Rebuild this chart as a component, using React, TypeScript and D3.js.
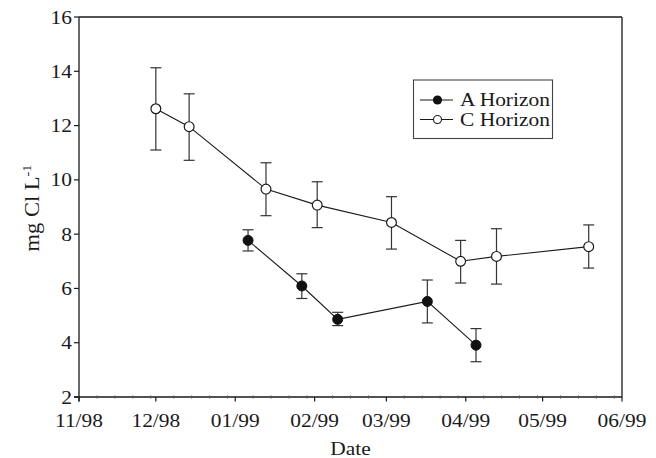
import React from "react";
import * as d3 from "d3";

const cDates = ["1998-12-01", "1998-12-14", "1999-01-13", "1999-02-02", "1999-03-03", "1999-03-30", "1999-04-13", "1999-05-19"];
const cValues = [12.62, 11.96, 9.66, 9.07, 8.43, 7.0, 7.18, 7.54];
const cUpper = [14.13, 13.17, 10.63, 9.93, 9.38, 7.77, 8.2, 8.34];
const cLower = [11.1, 10.72, 8.68, 8.24, 7.45, 6.2, 6.16, 6.75];

const aDates = ["1999-01-06", "1999-01-27", "1999-02-10", "1999-03-17", "1999-04-05"];
const aValues = [7.77, 6.09, 4.86, 5.52, 3.91];
const aUpper = [8.16, 6.54, 5.12, 6.31, 4.52];
const aLower = [7.38, 5.63, 4.63, 4.73, 3.3];

const yTicks = [2, 4, 6, 8, 10, 12, 14, 16];
const xTickFormat = "%m/%y";
const seriesNames = ["A Horizon", "C Horizon"];

const W = 656;
const H = 458;
const FONT = "'Liberation Serif', 'Times New Roman', serif";
const INK = "#1a1a1a";
const SX = 1.1;

const parse = (s: string) => {
  const [y, m, d] = s.split("-").map(Number);
  return new Date(y, m - 1, d);
};

function Txt({ x, y, anchor = "start", size = 19.5, rotate = 0, children }: any) {
  return (
    <text
      transform={`translate(${x},${y}) rotate(${rotate}) scale(${SX},1)`}
      textAnchor={anchor}
      fontFamily={FONT}
      fontSize={size}
      fill={INK}
    >
      {children}
    </text>
  );
}

export default function App() {
  const x = d3.scaleTime().domain([new Date(1998, 10, 1), new Date(1999, 5, 1)]).range([79, 622]);
  const y = d3.scaleLinear().domain([2, 16]).range([397, 17]);
  const [x0, x1] = x.range();
  const [y0, y1] = y.range();

  const majors = x.ticks(d3.timeMonth.every(1)!);
  const minors: Date[] = [];
  d3.timeMonth.range(new Date(1998, 10, 1), new Date(1999, 5, 1)).forEach((m) => {
    [8, 15, 22, 29].forEach((d) => {
      const dt = new Date(m.getFullYear(), m.getMonth(), d);
      if (dt.getMonth() === m.getMonth()) minors.push(dt);
    });
  });
  const fmt = d3.timeFormat(xTickFormat);

  const cData = cDates.map((d, i) => ({ date: parse(d), v: cValues[i], hi: cUpper[i], lo: cLower[i] }));
  const aData = aDates.map((d, i) => ({ date: parse(d), v: aValues[i], hi: aUpper[i], lo: aLower[i] }));
  const line = d3.line<any>().x((d) => x(d.date)).y((d) => y(d.v));

  const errBars = (data: any[], key: string) =>
    data.map((d, i) => {
      const cx = x(d.date);
      return (
        <g key={key + i} stroke="#333" strokeWidth={1.2}>
          <line x1={cx} x2={cx} y1={y(d.hi)} y2={y(d.lo)} />
          <line x1={cx - 5.5} x2={cx + 5.5} y1={y(d.hi)} y2={y(d.hi)} />
          <line x1={cx - 5.5} x2={cx + 5.5} y1={y(d.lo)} y2={y(d.lo)} />
        </g>
      );
    });

  return (
    <svg width={W} height={H} style={{ position: "absolute", left: 0, top: 0, background: "#fff" }}>
      <rect x={0} y={0} width={W} height={H} fill="#fff" />
      {/* frame */}
      <g stroke={INK} strokeWidth={1.3} fill="none">
        <line x1={x0} x2={x1} y1={y1} y2={y1} />
        <line x1={x1} x2={x1} y1={y1} y2={y0} />
        <line x1={x0} x2={x0} y1={y1} y2={y0 + 4.5} />
        <line x1={x0 - 5} x2={x1} y1={y0} y2={y0} />
      </g>
      {/* y ticks */}
      {yTicks.map((t) => (
        <g key={"y" + t}>
          <line x1={x0 - 5} x2={x0} y1={y(t)} y2={y(t)} stroke={INK} strokeWidth={1.2} />
          <Txt x={x0 - 7} y={y(t) + 6.5} anchor="end">{t}</Txt>
        </g>
      ))}
      {/* x ticks */}
      {minors.map((d, i) => (
        <line key={"m" + i} x1={x(d)} x2={x(d)} y1={y0 - 1.5} y2={y0 + 1.5} stroke="#555" strokeWidth={1} />
      ))}
      {majors.map((d, i) => (
        <g key={"x" + i}>
          <line x1={x(d)} x2={x(d)} y1={y0} y2={y0 + 4.5} stroke={INK} strokeWidth={1.2} />
          <Txt x={x(d)} y={427} anchor="middle">{fmt(d)}</Txt>
        </g>
      ))}
      {/* axis titles */}
      <Txt x={(x0 + x1) / 2} y={455} anchor="middle">Date</Txt>
      <Txt x={39} y={208} anchor="middle" rotate={-90} size={20.5}>
        mg Cl L<tspan dy={-8} fontSize={13}>-1</tspan>
      </Txt>
      {/* lines */}
      <path d={line(cData) || ""} fill="none" stroke={INK} strokeWidth={1.1} />
      <path d={line(aData) || ""} fill="none" stroke={INK} strokeWidth={1.1} />
      {errBars(cData, "c")}
      {errBars(aData, "a")}
      {cData.map((d, i) => (
        <circle key={"cc" + i} cx={x(d.date)} cy={y(d.v)} r={4.9} fill="#fff" stroke={INK} strokeWidth={1.2} />
      ))}
      {aData.map((d, i) => (
        <circle key={"ac" + i} cx={x(d.date)} cy={y(d.v)} r={5} fill="#111" stroke="#111" strokeWidth={1} />
      ))}
      {/* legend */}
      <rect x={413.5} y={80} width={139} height={58.5} fill="#fff" stroke="#444" strokeWidth={1.1} />
      <line x1={420} x2={453} y1={100} y2={100} stroke={INK} strokeWidth={1.1} />
      <circle cx={437.5} cy={100} r={4.6} fill="#111" />
      <Txt x={460} y={106}>{seriesNames[0]}</Txt>
      <line x1={420} x2={453} y1={119.5} y2={119.5} stroke={INK} strokeWidth={1.1} />
      <circle cx={437.5} cy={119.5} r={4} fill="#fff" stroke={INK} strokeWidth={1.1} />
      <Txt x={460} y={125.5}>{seriesNames[1]}</Txt>
    </svg>
  );
}
